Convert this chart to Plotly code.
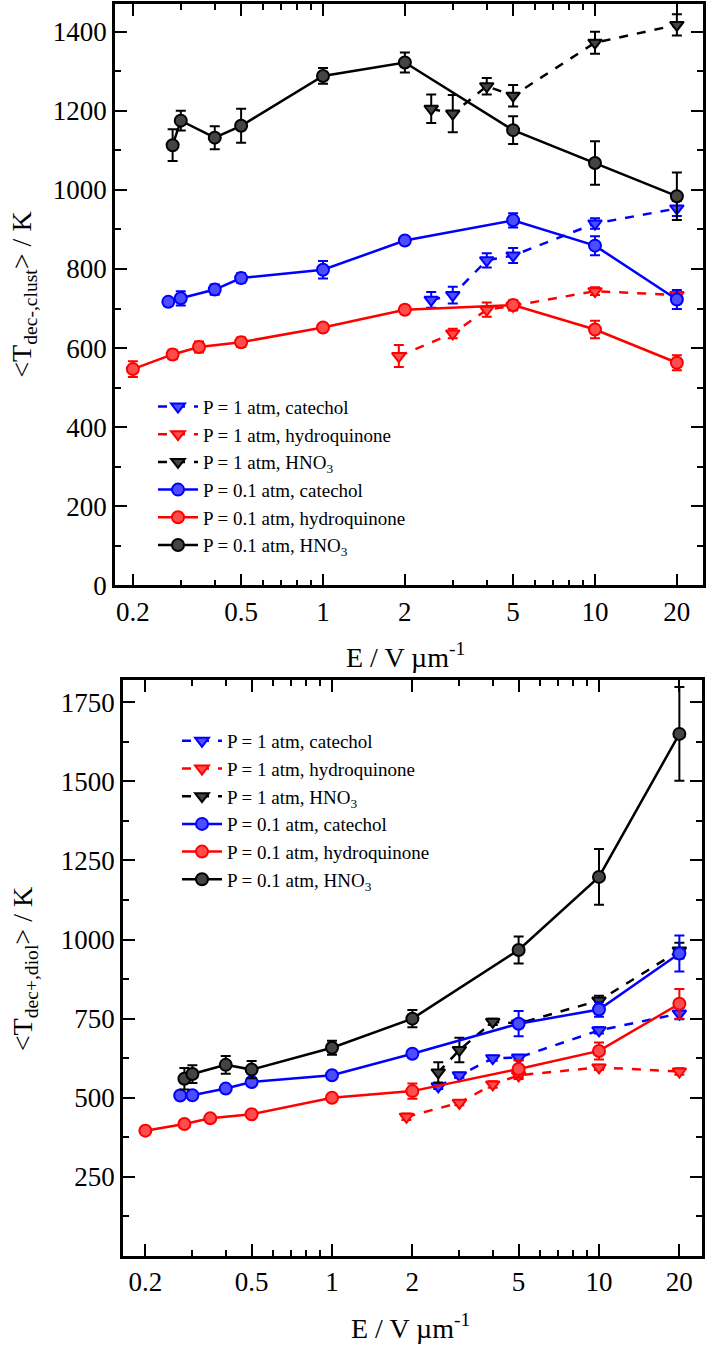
import plotly.graph_objects as go

# ---------------- data: top panel (<T_dec-,clust>) ----------------
top_x_cat_1atm = [2.5, 3, 4, 5, 10, 20]
top_y_cat_1atm = [722, 734, 822, 834, 915, 953]
top_e_cat_1atm = [20, 21, 18, 19, 13, 19]

top_x_hq_1atm = [1.9, 3, 4, 5, 10, 20]
top_y_hq_1atm = [580, 637, 697, 707, 744, 734]
top_e_hq_1atm = [28, 12, 18, 12, 10, 8]

top_x_hno3_1atm = [2.5, 3, 4, 5, 10, 20]
top_y_hno3_1atm = [1205, 1193, 1262, 1238, 1372, 1417]
top_e_hno3_1atm = [36, 47, 21, 27, 28, 27]

top_x_cat_01 = [0.27, 0.3, 0.4, 0.5, 1, 2, 5, 10, 20]
top_y_cat_01 = [717, 726, 748, 777, 798, 872, 923, 859, 723]
top_e_cat_01 = [10, 18, 13, 12, 22, 8, 18, 24, 24]

top_x_hq_01 = [0.2, 0.28, 0.35, 0.5, 1, 2, 5, 10, 20]
top_y_hq_01 = [547, 584, 603, 615, 652, 697, 709, 647, 563]
top_e_hq_01 = [20, 12, 14, 12, 8, 10, 12, 22, 19]

top_x_hno3_01 = [0.28, 0.3, 0.4, 0.5, 1, 2, 5, 10, 20]
top_y_hno3_01 = [1113, 1175, 1132, 1162, 1288, 1322, 1151, 1068, 984]
top_e_hno3_01 = [40, 25, 29, 43, 20, 25, 35, 55, 60]

# ---------------- data: bottom panel (<T_dec+,diol>) ----------------
bot_x_cat_1atm = [2.5, 3, 4, 5, 10, 20]
bot_y_cat_1atm = [536, 571, 625, 627, 713, 766]
bot_e_cat_1atm = [8, 8, 8, 8, 10, 18]

bot_x_hq_1atm = [1.9, 3, 4, 5, 10, 20]
bot_y_hq_1atm = [440, 484, 542, 571, 596, 583]
bot_e_hq_1atm = [10, 8, 10, 12, 8, 10]

bot_x_hno3_1atm = [2.5, 3, 4, 5, 10, 20]
bot_y_hno3_1atm = [580, 651, 740, 735, 807, 965]
bot_e_hno3_1atm = [32, 39, 10, 10, 15, 25]

bot_x_cat_01 = [0.27, 0.3, 0.4, 0.5, 1, 2, 5, 10, 20]
bot_y_cat_01 = [507, 508, 529, 550, 571, 639, 734, 779, 956]
bot_e_cat_01 = [8, 8, 8, 8, 8, 8, 40, 23, 57]

bot_x_hq_01 = [0.2, 0.28, 0.35, 0.5, 1, 2, 5, 10, 20]
bot_y_hq_01 = [396, 417, 435, 448, 500, 521, 591, 648, 797]
bot_e_hq_01 = [5, 8, 8, 8, 8, 24, 27, 27, 47]

bot_x_hno3_01 = [0.28, 0.3, 0.4, 0.5, 1, 2, 5, 10, 20]
bot_y_hno3_01 = [560, 575, 604, 589, 658, 750, 967, 1198, 1650]
bot_e_hno3_01 = [34, 28, 28, 27, 22, 27, 43, 88, 148]

labels = ["P = 1 atm, catechol", "P = 1 atm, hydroquinone", "P = 1 atm, HNO<sub>3</sub>",
          "P = 0.1 atm, catechol", "P = 0.1 atm, hydroquinone", "P = 0.1 atm, HNO<sub>3</sub>"]

x_tickvals = [0.2, 0.5, 1, 2, 5, 10, 20]
x_ticktext = ["0.2", "0.5", "1", "2", "5", "10", "20"]
x_minor = [0.3, 0.4, 0.6, 0.7, 0.8, 0.9, 3, 4, 6, 7, 8, 9]
top_y_ticks = [0, 200, 400, 600, 800, 1000, 1200, 1400]
top_y_minor = [100, 300, 500, 700, 900, 1100, 1300]
bot_y_ticks = [0, 250, 500, 750, 1000, 1250, 1500, 1750]
bot_y_ticktext = ["", "250", "500", "750", "1000", "1250", "1500", "1750"]
bot_y_minor = [125, 375, 625, 875, 1125, 1375, 1625]

colors = {"blue": "#0000ff", "red": "#ff0000", "black": "#000000"}
fills = {"blue": "#4d4dff", "red": "#ff4d4d", "black": "#444444"}

FONT = "Liberation Serif"
W, H = 707, 1358

fig = go.Figure()


def add(x, y, e, cname, dashed, label, xa, ya, legend):
    sym = "triangle-down" if dashed else "circle"
    fig.add_trace(go.Scatter(
        x=x, y=y, mode="lines+markers", name=label,
        xaxis=xa, yaxis=ya, legend=legend, showlegend=True,
        line=dict(color=colors[cname], width=2.5, dash="dash" if dashed else "solid"),
        marker=dict(symbol=sym, size=12, color=fills[cname],
                    line=dict(color=colors[cname], width=2)),
        error_y=dict(type="data", array=e, visible=True, color=colors[cname],
                     thickness=2, width=5),
    ))


top_sets = [
    (top_x_cat_1atm, top_y_cat_1atm, top_e_cat_1atm, "blue", True),
    (top_x_hq_1atm, top_y_hq_1atm, top_e_hq_1atm, "red", True),
    (top_x_hno3_1atm, top_y_hno3_1atm, top_e_hno3_1atm, "black", True),
    (top_x_cat_01, top_y_cat_01, top_e_cat_01, "blue", False),
    (top_x_hq_01, top_y_hq_01, top_e_hq_01, "red", False),
    (top_x_hno3_01, top_y_hno3_01, top_e_hno3_01, "black", False),
]
bot_sets = [
    (bot_x_cat_1atm, bot_y_cat_1atm, bot_e_cat_1atm, "blue", True),
    (bot_x_hq_1atm, bot_y_hq_1atm, bot_e_hq_1atm, "red", True),
    (bot_x_hno3_1atm, bot_y_hno3_1atm, bot_e_hno3_1atm, "black", True),
    (bot_x_cat_01, bot_y_cat_01, bot_e_cat_01, "blue", False),
    (bot_x_hq_01, bot_y_hq_01, bot_e_hq_01, "red", False),
    (bot_x_hno3_01, bot_y_hno3_01, bot_e_hno3_01, "black", False),
]
for (x, y, e, c, d), lab in zip(top_sets, labels):
    add(x, y, e, c, d, lab, "x", "y", "legend")
for (x, y, e, c, d), lab in zip(bot_sets, labels):
    add(x, y, e, c, d, lab, "x2", "y2", "legend2")


def px_x(p):
    return p / W


def px_y(p):
    return 1 - p / H


tickfont = dict(family=FONT, size=27, color="black")
common_x = dict(type="log", tickvals=x_tickvals, ticktext=x_ticktext, ticks="inside",
                ticklen=12, tickwidth=2, tickcolor="black", showline=True, linewidth=2.5,
                linecolor="black", mirror="ticks", showgrid=False, zeroline=False,
                tickfont=tickfont,
                minor=dict(tickvals=x_minor, ticks="inside", ticklen=6, tickwidth=2,
                           tickcolor="black", showgrid=False))
common_y = dict(ticks="inside", ticklen=12, tickwidth=2, tickcolor="black", showline=True,
                linewidth=2.5, linecolor="black", mirror="ticks", showgrid=False,
                zeroline=False, tickfont=tickfont)

title_font = dict(family=FONT, size=28, color="black")


def ann(text, xp, yp, angle=0):
    return dict(text=text, x=px_x(xp), y=px_y(yp), xref="paper", yref="paper",
                xanchor="center", yanchor="middle", showarrow=False, textangle=angle,
                font=title_font)


fig.update_layout(
    width=W, height=H, margin=dict(l=0, r=0, t=0, b=0),
    paper_bgcolor="white", plot_bgcolor="white",
    xaxis=dict(common_x, domain=[px_x(115), px_x(703)], range=[-0.7647, 1.3971], anchor="y"),
    yaxis=dict(common_y, domain=[px_y(592), px_y(4)], range=[0, 1470], anchor="x",
               tickvals=top_y_ticks,
               minor=dict(tickvals=top_y_minor, ticks="inside", ticklen=6, tickwidth=2,
                          tickcolor="black", showgrid=False)),
    xaxis2=dict(common_x, domain=[px_x(123), px_x(702)], range=[-0.7828, 1.3858], anchor="y2"),
    yaxis2=dict(common_y, domain=[px_y(1270), px_y(688)], range=[0, 1819], anchor="x2",
                tickvals=bot_y_ticks, ticktext=bot_y_ticktext,
                minor=dict(tickvals=bot_y_minor, ticks="inside", ticklen=6, tickwidth=2,
                           tickcolor="black", showgrid=False)),
    legend=dict(x=px_x(153), y=px_y(392), xanchor="left", yanchor="top",
                bgcolor="rgba(0,0,0,0)", font=dict(family=FONT, size=19, color="black"),
                itemwidth=40, tracegroupgap=0),
    legend2=dict(x=px_x(177), y=px_y(730), xanchor="left", yanchor="top",
                 bgcolor="rgba(0,0,0,0)", font=dict(family=FONT, size=19, color="black"),
                 itemwidth=40, tracegroupgap=0),
    annotations=[
        ann("E / V µm<sup>-1</sup>", 405, 663),
        ann("E / V µm<sup>-1</sup>", 410, 1341),
        ann("&lt;T<sub>dec-,clust</sub>&gt; / K", 24, 298, -90),
        ann("&lt;T<sub>dec+,diol</sub>&gt; / K", 24, 980, -90),
    ],
)

fig.write_html("out.html")
